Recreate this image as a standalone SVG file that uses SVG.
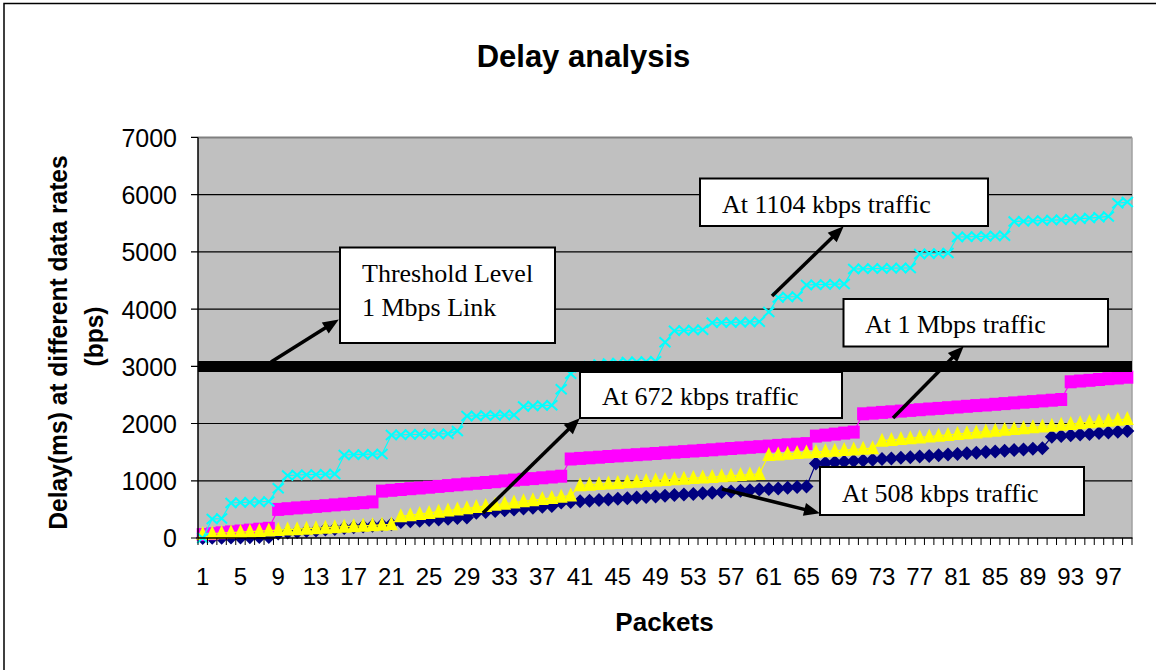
<svg xmlns="http://www.w3.org/2000/svg" width="1156" height="670" viewBox="0 0 1156 670">
  <style>
    .sans { font-family: "Liberation Sans", Arial, sans-serif; fill: #000; }
    .bold { font-weight: bold; }
    .tick-y { font-size: 25px; text-anchor: end; }
    .tick-x { font-size: 24px; text-anchor: middle; }
    .serif { font-family: "Liberation Serif", "Times New Roman", serif; font-size: 26px; fill: #000; }
    .grid { stroke: #000; stroke-width: 1.2; }
    .series { fill: none; stroke-width: 1.2; }
    .note rect { fill: #fff; stroke: #000; stroke-width: 2; }
    .arrow { stroke: #000; stroke-width: 3.5; fill: none; marker-end: url(#arrowhead); }
  </style>
  <defs>
    <marker id="arrowhead" markerUnits="userSpaceOnUse" markerWidth="16" markerHeight="13" refX="5" refY="6.5" orient="auto" overflow="visible">
      <path d="M0,0 L16,6.5 L0,13 Z" fill="#000"/>
    </marker>
    <marker id="mk-diamond" markerUnits="userSpaceOnUse" markerWidth="14" markerHeight="14" refX="7" refY="7" overflow="visible">
      <path d="M7,0 L14,7 L7,14 L0,7 Z" fill="#000080"/>
    </marker>
    <marker id="mk-square" markerUnits="userSpaceOnUse" markerWidth="12" markerHeight="13" refX="6" refY="6.5" overflow="visible">
      <rect width="12" height="13" fill="#ff00ff"/>
    </marker>
    <marker id="mk-tri" markerUnits="userSpaceOnUse" markerWidth="13" markerHeight="14" refX="6.5" refY="8" overflow="visible">
      <path d="M6.5,0 L13,14 L0,14 Z" fill="#ffff00"/>
    </marker>
    <marker id="mk-x" markerUnits="userSpaceOnUse" markerWidth="11" markerHeight="10" refX="5.5" refY="5" overflow="visible">
      <path d="M0,0 L11,10 M11,0 L0,10" stroke="#00ffff" stroke-width="2" fill="none"/>
    </marker>
  </defs>

  <!-- page -->
  <rect x="0" y="0" width="1156" height="670" fill="#fff"/>
  <path d="M4,670 V3.5 H1156" fill="none" stroke="#000" stroke-width="1.5"/>

  <!-- title -->
  <text class="sans bold" x="583.5" y="66.5" font-size="31" text-anchor="middle">Delay analysis</text>

  <!-- plot area -->
  <g id="plot-area">
    <rect x="198" y="137.4" width="934" height="400.6" fill="#c0c0c0"/>
    <line x1="198" y1="137.4" x2="1132" y2="137.4" stroke="#808080" stroke-width="2"/>
    <line x1="1132" y1="137.4" x2="1132" y2="538" stroke="#a0a0a0" stroke-width="1.5"/>
    <line class="grid" x1="198" y1="194.6" x2="1132" y2="194.6"/>
    <line class="grid" x1="198" y1="251.9" x2="1132" y2="251.9"/>
    <line class="grid" x1="198" y1="309.1" x2="1132" y2="309.1"/>
    <line class="grid" x1="198" y1="366.3" x2="1132" y2="366.3"/>
    <line class="grid" x1="198" y1="423.5" x2="1132" y2="423.5"/>
    <line class="grid" x1="198" y1="480.8" x2="1132" y2="480.8"/>
  </g>

  <!-- data series -->
  <g id="series">
    <polyline id="series-508" class="series" stroke="#000080" marker-start="url(#mk-diamond)" marker-mid="url(#mk-diamond)" marker-end="url(#mk-diamond)" points="202.7,538.0 212.2,537.8 221.6,537.7 231.0,537.5 240.5,537.4 249.9,537.2 259.3,537.1 268.8,536.9 278.2,533.4 287.6,532.6 297.1,531.9 306.5,531.1 316.0,530.4 325.4,529.6 334.8,528.9 344.2,528.1 353.7,527.3 363.1,526.6 372.5,525.8 382.0,525.1 391.4,524.3 400.8,522.0 410.3,521.3 419.7,520.7 429.1,520.0 438.6,519.4 448.0,518.7 457.4,518.1 466.9,517.4 476.3,512.8 485.7,512.0 495.2,511.1 504.6,510.3 514.0,509.4 523.5,508.5 532.9,507.7 542.3,506.8 551.8,506.0 561.2,502.5 570.7,501.9 580.1,501.3 589.5,500.7 599.0,500.0 608.4,499.4 617.8,498.8 627.3,498.2 636.7,497.6 646.1,497.0 655.6,496.4 665.0,495.7 674.4,495.1 683.9,494.5 693.3,493.9 702.7,493.3 712.2,492.7 721.6,492.1 731.0,491.4 740.5,490.8 749.9,490.2 759.3,489.6 768.8,489.0 778.2,488.4 787.6,487.7 797.1,487.1 806.5,486.5 815.9,463.6 825.4,463.0 834.8,462.3 844.2,461.7 853.7,461.0 863.1,460.4 872.6,459.7 882.0,459.1 891.4,458.5 900.9,457.8 910.3,457.2 919.7,456.5 929.2,455.9 938.6,455.3 948.0,454.6 957.5,454.0 966.9,453.3 976.3,452.7 985.8,452.0 995.2,451.4 1004.6,450.8 1014.1,450.1 1023.5,449.5 1032.9,448.8 1042.4,448.2 1051.8,436.7 1061.2,436.0 1070.7,435.3 1080.1,434.6 1089.5,433.9 1099.0,433.1 1108.4,432.4 1117.8,431.7 1127.3,431.0"/>
    <polyline id="series-1m" class="series" stroke="#ff00ff" marker-start="url(#mk-square)" marker-mid="url(#mk-square)" marker-end="url(#mk-square)" points="202.7,534.6 212.2,533.7 221.6,532.8 231.0,531.9 240.5,531.0 249.9,530.1 259.3,529.2 268.8,528.3 278.2,509.4 287.6,508.7 297.1,507.9 306.5,507.2 316.0,506.4 325.4,505.7 334.8,504.9 344.2,504.2 353.7,503.4 363.1,502.7 372.5,501.9 382.0,491.1 391.4,490.3 400.8,489.5 410.3,488.7 419.7,488.0 429.1,487.2 438.6,486.4 448.0,485.6 457.4,484.8 466.9,484.0 476.3,483.3 485.7,482.5 495.2,481.7 504.6,480.9 514.0,480.1 523.5,479.3 532.9,478.6 542.3,477.8 551.8,477.0 561.2,476.2 570.7,459.0 580.1,458.4 589.5,457.8 599.0,457.2 608.4,456.5 617.8,455.9 627.3,455.3 636.7,454.7 646.1,454.1 655.6,453.5 665.0,452.8 674.4,452.2 683.9,451.6 693.3,451.0 702.7,450.4 712.2,449.8 721.6,449.1 731.0,448.5 740.5,447.9 749.9,447.3 759.3,446.7 768.8,446.1 778.2,445.4 787.6,444.8 797.1,444.2 806.5,443.6 815.9,436.1 825.4,435.1 834.8,434.1 844.2,433.1 853.7,432.1 863.1,413.8 872.6,413.1 882.0,412.4 891.4,411.8 900.9,411.1 910.3,410.4 919.7,409.7 929.2,409.0 938.6,408.4 948.0,407.7 957.5,407.0 966.9,406.3 976.3,405.6 985.8,405.0 995.2,404.3 1004.6,403.6 1014.1,402.9 1023.5,402.2 1032.9,401.6 1042.4,400.9 1051.8,400.2 1061.2,399.5 1070.7,381.8 1080.1,381.0 1089.5,380.3 1099.0,379.5 1108.4,378.7 1117.8,378.0 1127.3,377.2"/>
    <polyline id="series-672" class="series" stroke="#ffff00" marker-start="url(#mk-tri)" marker-mid="url(#mk-tri)" marker-end="url(#mk-tri)" points="202.7,534.0 212.2,533.5 221.6,533.0 231.0,532.5 240.5,532.1 249.9,531.6 259.3,531.1 268.8,530.6 278.2,530.1 287.6,529.6 297.1,529.2 306.5,528.7 316.0,528.2 325.4,527.7 334.8,527.2 344.2,526.7 353.7,526.2 363.1,525.8 372.5,525.3 382.0,524.8 391.4,524.3 400.8,516.3 410.3,515.2 419.7,514.0 429.1,512.9 438.6,511.7 448.0,510.6 457.4,509.4 466.9,508.3 476.3,507.1 485.7,506.0 495.2,504.8 504.6,503.7 514.0,502.5 523.5,501.3 532.9,500.2 542.3,499.0 551.8,497.9 561.2,496.7 570.7,495.6 580.1,485.3 589.5,484.7 599.0,484.1 608.4,483.5 617.8,482.9 627.3,482.3 636.7,481.7 646.1,481.1 655.6,480.5 665.0,479.9 674.4,479.3 683.9,478.7 693.3,478.1 702.7,477.5 712.2,476.9 721.6,476.3 731.0,475.7 740.5,475.1 749.9,474.5 759.3,473.9 768.8,455.0 778.2,454.4 787.6,453.8 797.1,453.1 806.5,452.5 815.9,451.9 825.4,451.3 834.8,450.7 844.2,450.1 853.7,449.4 863.1,448.8 872.6,448.2 882.0,440.7 891.4,439.9 900.9,439.0 910.3,438.2 919.7,437.4 929.2,436.5 938.6,435.7 948.0,434.9 957.5,434.0 966.9,433.2 976.3,432.4 985.8,431.5 995.2,430.7 1004.6,429.8 1014.1,429.0 1023.5,428.2 1032.9,427.3 1042.4,426.5 1051.8,425.7 1061.2,424.8 1070.7,424.0 1080.1,423.2 1089.5,422.3 1099.0,421.5 1108.4,420.7 1117.8,419.8 1127.3,419.0"/>
    <polyline id="series-1104" class="series" stroke="#00ffff" stroke-width="1.8" marker-start="url(#mk-x)" marker-mid="url(#mk-x)" marker-end="url(#mk-x)" points="202.7,538 212.2,519.1 221.6,518.5 231.0,503.0 240.5,502.5 249.9,502.2 259.3,501.9 268.8,501.4 278.2,488.2 287.6,475.6 297.1,475.0 306.5,474.7 316.0,474.5 325.4,474.2 334.8,473.9 344.2,455.0 353.7,454.7 363.1,454.4 372.5,454.2 382.0,453.9 391.4,435.0 400.8,434.8 410.3,434.5 419.7,434.3 429.1,434.1 438.6,433.9 448.0,433.7 457.4,431.0 466.9,416.1 476.3,415.9 485.7,415.6 495.2,415.4 504.6,415.1 514.0,414.9 523.5,406.4 532.9,406.0 542.3,405.6 551.8,405.2 561.2,389.2 570.7,373.7 580.1,367.5 589.5,366.3 599.0,364.6 608.4,363.4 617.8,362.9 627.3,361.9 636.7,361.7 646.1,361.5 655.6,361.3 665.0,342.3 674.4,330.8 683.9,330.5 693.3,330.1 702.7,329.7 712.2,322.8 721.6,322.6 731.0,322.4 740.5,322.2 749.9,321.9 759.3,321.7 768.8,311.9 778.2,297.6 787.6,297.0 797.1,296.5 806.5,285.0 815.9,284.7 825.4,284.5 834.8,284.2 844.2,283.9 853.7,269.0 863.1,268.8 872.6,268.6 882.0,268.4 891.4,268.2 900.9,268.0 910.3,267.9 919.7,254.1 929.2,253.7 938.6,253.4 948.0,253.0 957.5,237.0 966.9,236.8 976.3,236.5 985.8,236.3 995.2,236.0 1004.6,235.8 1014.1,221.5 1023.5,221.2 1032.9,220.8 1042.4,220.5 1051.8,220.1 1061.2,219.8 1070.7,219.3 1080.1,218.7 1089.5,218.1 1099.0,217.3 1108.4,216.4 1117.8,203.2 1127.3,202.1"/>
  </g>

  <!-- threshold level at 3000 -->
  <line id="threshold" x1="198" y1="366.6" x2="1132" y2="366.6" stroke="#000" stroke-width="11"/>

  <!-- axes and ticks -->
  <g id="axes">
    <line x1="198" y1="137.4" x2="198" y2="538" stroke="#000" stroke-width="1.5"/>
    <line x1="198" y1="538" x2="1132.5" y2="538" stroke="#000" stroke-width="1.5"/>
    <path d="M191,137.4 H198 M191,194.6 H198 M191,251.9 H198 M191,309.1 H198 M191,366.3 H198 M191,423.5 H198 M191,480.8 H198 M191,538 H198" stroke="#000" stroke-width="1.2"/>
    <line x1="197.5" y1="541.5" x2="1133" y2="541.5" stroke="#000" stroke-width="7" stroke-dasharray="1 8.4343"/>
  </g>

  <!-- value axis labels -->
  <g id="y-labels" class="sans tick-y">
    <text x="177" y="147">7000</text>
    <text x="177" y="204">6000</text>
    <text x="177" y="261">5000</text>
    <text x="177" y="318.5">4000</text>
    <text x="177" y="375.5">3000</text>
    <text x="177" y="433">2000</text>
    <text x="177" y="490">1000</text>
    <text x="177" y="547">0</text>
  </g>

  <!-- category axis labels -->
  <g id="x-labels" class="sans tick-x">
    <text x="202.7" y="585">1</text>
    <text x="240.5" y="585">5</text>
    <text x="278.2" y="585">9</text>
    <text x="316.0" y="585">13</text>
    <text x="353.7" y="585">17</text>
    <text x="391.4" y="585">21</text>
    <text x="429.1" y="585">25</text>
    <text x="466.9" y="585">29</text>
    <text x="504.6" y="585">33</text>
    <text x="542.3" y="585">37</text>
    <text x="580.1" y="585">41</text>
    <text x="617.8" y="585">45</text>
    <text x="655.6" y="585">49</text>
    <text x="693.3" y="585">53</text>
    <text x="731.0" y="585">57</text>
    <text x="768.8" y="585">61</text>
    <text x="806.5" y="585">65</text>
    <text x="844.2" y="585">69</text>
    <text x="882.0" y="585">73</text>
    <text x="919.7" y="585">77</text>
    <text x="957.5" y="585">81</text>
    <text x="995.2" y="585">85</text>
    <text x="1032.9" y="585">89</text>
    <text x="1070.7" y="585">93</text>
    <text x="1108.4" y="585">97</text>
  </g>

  <!-- axis titles -->
  <text class="sans bold" x="664.5" y="631" font-size="26" text-anchor="middle">Packets</text>
  <text class="sans bold" font-size="24.6" text-anchor="middle" transform="translate(67,342.5) scale(1.08,1) rotate(-90)">Delay(ms) at different data rates</text>
  <text class="sans bold" font-size="24.6" text-anchor="middle" transform="translate(103,336.5) scale(1.08,1) rotate(-90)">(bps)</text>

  <!-- callout arrows -->
  <g id="connectors">
    <line class="arrow" x1="271" y1="362" x2="329.5" y2="325.3"/>
    <line class="arrow" x1="772" y1="296" x2="835.8" y2="234.0"/>
    <line class="arrow" x1="893" y1="418" x2="956.0" y2="354.1"/>
    <line class="arrow" x1="483" y1="513" x2="571.9" y2="426.0"/>
    <line class="arrow" x1="722" y1="489" x2="809.3" y2="510.6"/>
  </g>

  <!-- callout boxes -->
  <g id="note-threshold" class="note">
    <rect x="340" y="247.5" width="215" height="95.5"/>
    <text class="serif" x="362" y="282">Threshold Level</text>
    <text class="serif" x="362" y="316">1 Mbps Link</text>
  </g>
  <g id="note-1104" class="note">
    <rect x="700" y="178.5" width="288" height="47.5"/>
    <text class="serif" x="722" y="213">At 1104 kbps traffic</text>
  </g>
  <g id="note-1m" class="note">
    <rect x="843.5" y="299" width="264.5" height="47.5"/>
    <text class="serif" x="865" y="333">At 1 Mbps traffic</text>
  </g>
  <g id="note-672" class="note">
    <rect x="580" y="372" width="262" height="46"/>
    <text class="serif" x="602" y="405">At 672 kbps traffic</text>
  </g>
  <g id="note-508" class="note">
    <rect x="820" y="467" width="264" height="48"/>
    <text class="serif" x="842" y="502">At 508 kbps traffic</text>
  </g>
</svg>
